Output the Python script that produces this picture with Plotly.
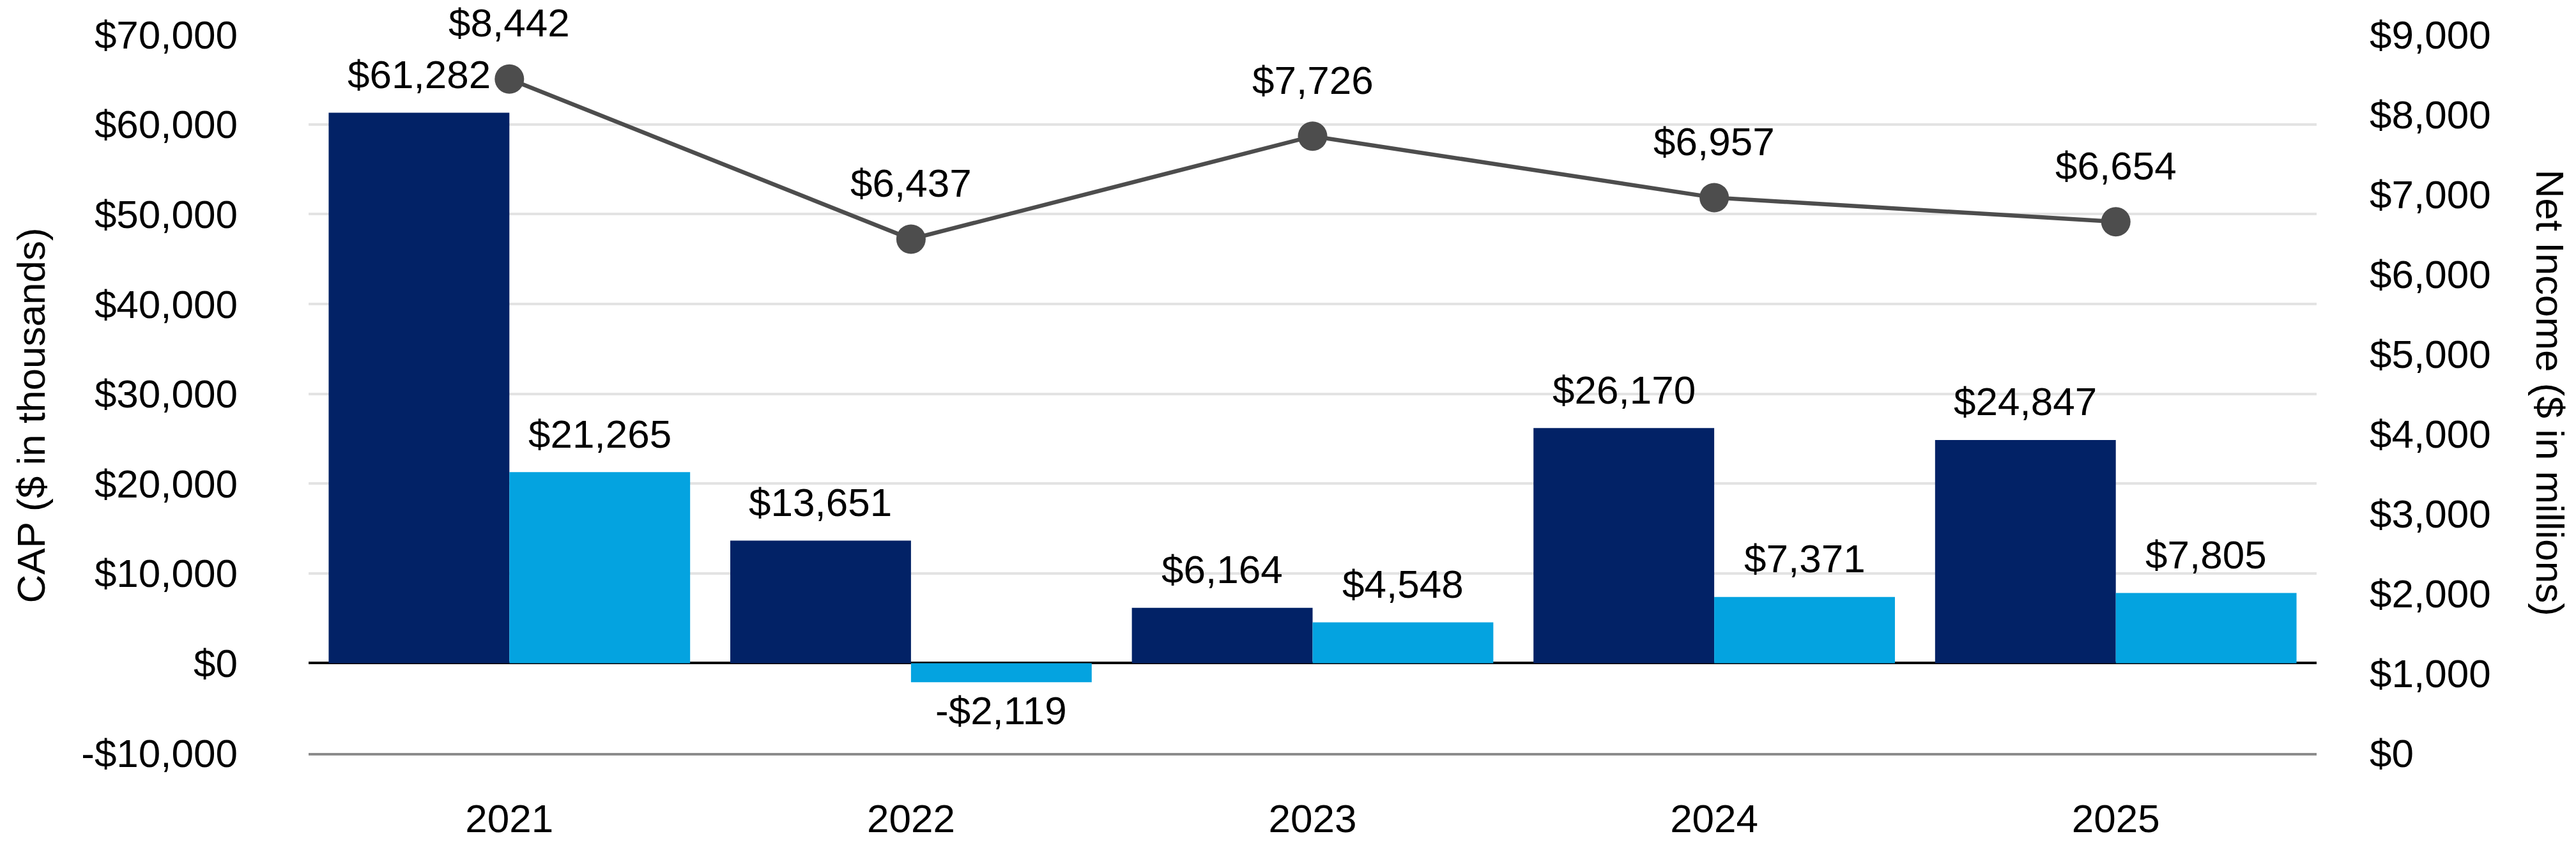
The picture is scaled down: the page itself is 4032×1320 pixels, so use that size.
import plotly.graph_objects as go

# ---- data ----
years = ["2021", "2022", "2023", "2024", "2025"]
cap_peo = [61282, 13651, 6164, 26170, 24847]        # dark navy bars ($ thousands)
cap_neo = [21265, -2119, 4548, 7371, 7805]          # light blue bars ($ thousands)
net_income = [8442, 6437, 7726, 6957, 6654]         # line ($ millions)

left_tick_vals = [-10000, 0, 10000, 20000, 30000, 40000, 50000, 60000, 70000]
left_tick_text = ["-$10,000", "$0", "$10,000", "$20,000", "$30,000",
                  "$40,000", "$50,000", "$60,000", "$70,000"]
right_tick_vals = [0, 1000, 2000, 3000, 4000, 5000, 6000, 7000, 8000, 9000]
right_tick_text = ["$0", "$1,000", "$2,000", "$3,000", "$4,000",
                   "$5,000", "$6,000", "$7,000", "$8,000", "$9,000"]

left_title = "CAP ($ in thousands)"
right_title = "Net Income ($ in millions)"

# ---- style ----
NAVY = "#022266"
LIGHT = "#04A3E0"
LINE = "#4D4D4D"
FONT = "Liberation Sans, Arial, sans-serif"
FS = 62

W, H = 4032, 1320
ML, MR, MT, MB = 475, 414, 46, 112
plot_w = W - ML - MR
BARGAP = 0.1
# distance from category centre to the centre of each bar in the pair
bar_offset = plot_w / len(years) * (1 - BARGAP) / 4


def money(v):
    return f"-${abs(v):,}" if v < 0 else f"${v:,}"


fig = go.Figure()
fig.add_trace(go.Bar(x=years, y=cap_peo, marker=dict(color=NAVY, line=dict(width=0)),
                     name="CAP PEO", showlegend=False))
fig.add_trace(go.Bar(x=years, y=cap_neo, marker=dict(color=LIGHT, line=dict(width=0)),
                     name="CAP NEO", showlegend=False))
fig.add_trace(go.Scatter(x=years, y=net_income, yaxis="y2", mode="lines+markers",
                         line=dict(color=LINE, width=6.5),
                         marker=dict(color=LINE, size=46),
                         name="Net Income", showlegend=False))

label_font = dict(family=FONT, size=FS, color="#000000")
annotations = []
for i, v in enumerate(cap_peo):
    annotations.append(dict(x=i, y=v, xref="x", yref="y", text=money(v), showarrow=False,
                            xshift=-bar_offset, yshift=60 if v >= 0 else -44,
                            font=label_font))
for i, v in enumerate(cap_neo):
    annotations.append(dict(x=i, y=v, xref="x", yref="y", text=money(v), showarrow=False,
                            xshift=bar_offset, yshift=60 if v >= 0 else -44,
                            font=label_font))
for i, v in enumerate(net_income):
    annotations.append(dict(x=i, y=v, xref="x", yref="y2", text=money(v), showarrow=False,
                            yshift=88, font=label_font))

annotations.append(dict(x=0, y=0.5, xref="paper", yref="paper", text=left_title,
                        showarrow=False, textangle=-90, xanchor="center", yanchor="middle",
                        xshift=40 - ML, yshift=-34, font=label_font))
annotations.append(dict(x=1, y=0.5, xref="paper", yref="paper", text=right_title,
                        showarrow=False, textangle=90, xanchor="center", yanchor="middle",
                        xshift=3983 - (W - MR), yshift=2, font=label_font))

fig.update_layout(
    width=W, height=H,
    margin=dict(l=ML, r=MR, t=MT, b=MB, pad=0),
    paper_bgcolor="white", plot_bgcolor="white",
    barmode="group", bargap=BARGAP, bargroupgap=0,
    font=dict(family=FONT, size=FS, color="#000000"),
    showlegend=False,
    annotations=annotations,
    xaxis=dict(type="category", range=[-0.5, len(years) - 0.5], autorange=False,
               showline=True, linecolor="#8C8C8C", linewidth=4,
               showgrid=False, ticks="", ticklabelstandoff=46,
               tickfont=label_font),
    yaxis=dict(range=[-10000, 70000], autorange=False,
               tickvals=left_tick_vals, ticktext=left_tick_text,
               showgrid=True, gridcolor="#E3E3E3", gridwidth=4,
               zeroline=True, zerolinecolor="#000000", zerolinewidth=4,
               showline=False, ticks="", ticklabelstandoff=110,
               tickfont=label_font),
    yaxis2=dict(range=[0, 9000], autorange=False,
                tickvals=right_tick_vals, ticktext=right_tick_text,
                overlaying="y", side="right", showgrid=False, zeroline=False,
                showline=False, ticks="", ticklabelstandoff=82,
                tickfont=label_font),
)

fig.write_html("out.html")
